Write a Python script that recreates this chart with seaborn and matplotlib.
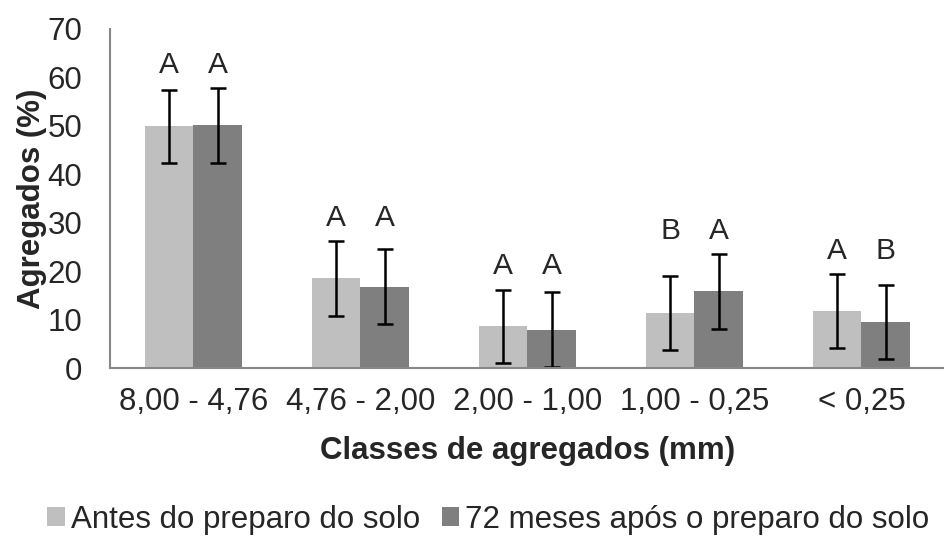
import matplotlib
matplotlib.use('Agg')
import matplotlib.pyplot as plt
import seaborn as sns
import numpy as np
import pandas as pd
from matplotlib.patches import Patch

classes = ["8,00 - 4,76", "4,76 - 2,00", "2,00 - 1,00", "1,00 - 0,25", "< 0,25"]
series = ["Antes do preparo do solo", "72 meses após o preparo do solo"]
antes = [49.9, 18.5, 8.6, 11.3, 11.8]
depois = [50.1, 16.8, 7.9, 15.8, 9.5]
err_antes = [7.6, 7.7, 7.6, 7.6, 7.6]
err_depois = [7.7, 7.7, 7.7, 7.8, 7.7]
letras_antes = ["A", "A", "A", "B", "A"]
letras_depois = ["A", "A", "A", "A", "B"]
colors = ["#bfbfbf", "#7f7f7f"]

df = pd.DataFrame({
    "classe": classes * 2,
    "serie": [series[0]] * 5 + [series[1]] * 5,
    "valor": antes + depois,
})

sns.set_style("white")
plt.rcParams['font.family'] = ['Liberation Sans', 'DejaVu Sans']

fig = plt.figure(figsize=(9.45, 5.37), dpi=100)
ax = fig.add_axes([0.1164, 0.3147, 0.8836, 0.6313])

sns.barplot(data=df, x="classe", y="valor", hue="serie", order=classes,
            hue_order=series, palette=colors, width=0.58, errorbar=None,
            saturation=1, linewidth=0, ax=ax)
ax.get_legend().remove()

errs = [err_antes, err_depois]
vals = [antes, depois]
tops = np.zeros(len(classes))
centers = []
bar_conts = list(ax.containers)
for i, cont in enumerate(bar_conts):
    xs = [p.get_x() + p.get_width() / 2 for p in cont.patches]
    centers.append(xs)
    ax.errorbar(xs, vals[i], yerr=errs[i], fmt="none", ecolor="black",
                elinewidth=1.8, capsize=5.5, capthick=1.8)
    tops = np.maximum(tops, np.array(vals[i]) + np.array(errs[i]))

# letras de significancia acima das barras de erro
for j in range(len(classes)):
    for xs, letras in zip(centers, [letras_antes, letras_depois]):
        ax.text(xs[j], tops[j] + 1.9, letras[j], ha="center", va="bottom",
                fontsize=21.5)

ax.set_ylim(0, 70)
ax.set_xlim(-0.5, len(classes) - 0.5)
ax.set_yticks(range(0, 71, 10))
ax.set_xticks(range(len(classes)))
ax.set_xticklabels(classes)
ax.set_xticks(np.arange(-0.5, len(classes)), minor=True)
ax.tick_params(axis="x", which="major", length=0, pad=14, labelsize=22.5)
ax.tick_params(axis="x", which="minor", length=8, width=1.5, color="#878787",
               direction="out")
ax.tick_params(axis="y", length=7, width=1.5, color="#878787", direction="out",
               labelsize=22.5, pad=13)

for s in ["top", "right"]:
    ax.spines[s].set_visible(False)
for s in ["left", "bottom"]:
    ax.spines[s].set_color("#878787")
    ax.spines[s].set_linewidth(1.5)

ax.set_xlabel("Classes de agregados (mm)", fontsize=22.5, fontweight="bold",
              labelpad=13)
ax.set_ylabel("Agregados (%)", fontsize=22.5, fontweight="bold", labelpad=0)

handles = [Patch(facecolor=c, edgecolor="none") for c in colors]
fig.legend(handles, series, loc="center", bbox_to_anchor=(0.517, 0.032),
           ncol=2, frameon=False, fontsize=22.5, handlelength=0.55,
           handleheight=0.55, handletextpad=0.2, columnspacing=0.7,
           borderpad=0.1)

fig.savefig("out.png", dpi=100)
plt.close()
